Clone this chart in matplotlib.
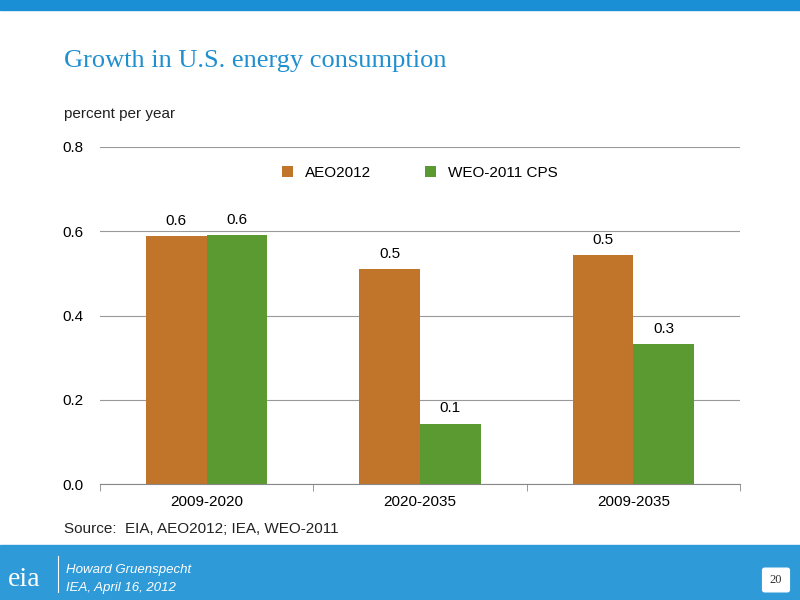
import matplotlib
matplotlib.use("Agg")
import matplotlib.pyplot as plt
import numpy as np
from matplotlib.patches import Rectangle, FancyBboxPatch

plt.rcParams["font.family"] = ["Liberation Sans", "DejaVu Sans"]

categories = ["2009-2020", "2020-2035", "2009-2035"]
aeo = [0.588, 0.510, 0.543]
weo = [0.590, 0.143, 0.332]
aeo_labels = ["0.6", "0.5", "0.5"]
weo_labels = ["0.6", "0.1", "0.3"]
yticks = [0.0, 0.2, 0.4, 0.6, 0.8]

fig = plt.figure(figsize=(8, 6), dpi=100)
W, H = 800, 600
def fx(px): return px / W
def fy(py): return 1 - py / H

fig.patches.append(Rectangle((0, fy(10)), 1, 10 / H, transform=fig.transFigure, color="#1a8fd6", zorder=0))
fig.patches.append(Rectangle((0, 0), 1, 55 / H, transform=fig.transFigure, color="#2e9ad8", zorder=0))
fig.text(fx(64), fy(61), "Growth in U.S. energy consumption", fontsize=19, color="#1f8fcf", family="Liberation Serif", va="center")
fig.text(fx(64), fy(114), "percent per year", fontsize=11, color="#222222", va="center")
fig.text(fx(64), fy(529), "Source:  EIA, AEO2012; IEA, WEO-2011", fontsize=11, color="#222222", va="center")
fig.text(fx(8), fy(580), "eia", fontsize=20, color="white", family="Liberation Serif", va="center")
fig.lines.append(plt.Line2D([fx(58), fx(58)], [fy(592), fy(556)], transform=fig.transFigure, color="white", lw=0.8))
fig.text(fx(66), fy(570), "Howard Gruenspecht", fontsize=9.5, color="white", style="italic", va="center")
fig.text(fx(66), fy(588), "IEA, April 16, 2012", fontsize=9.5, color="white", style="italic", va="center")
fig.patches.append(FancyBboxPatch((fx(765), fy(590)), 22 / W, 20 / H, boxstyle="round,pad=0.003", transform=fig.transFigure, color="white"))
fig.text(fx(776), fy(580), "20", fontsize=9, color="#333333", family="Liberation Serif", ha="center", va="center")

ax = fig.add_axes([fx(100), fy(484), (740 - 100) / W, (484 - 147) / H])
x = np.arange(len(categories))
w = 0.285
b1 = ax.bar(x - w / 2, aeo, w, color="#c0752a", label="AEO2012")
b2 = ax.bar(x + w / 2, weo, w, color="#5a9a31", label="WEO-2011 CPS")
for bars, labs in ((b1, aeo_labels), (b2, weo_labels)):
    for r, t in zip(bars, labs):
        ax.text(r.get_x() + r.get_width() / 2, r.get_height() + 0.02, t, ha="center", va="bottom", fontsize=11)
ax.set_xlim(-0.5, 2.5)
ax.set_ylim(0, 0.8)
ax.set_yticks(yticks)
ax.set_yticklabels([f"{v:.1f}" for v in yticks], fontsize=11)
ax.set_xticks(x)
ax.set_xticklabels(categories, fontsize=11)
ax.set_xticks([-0.5, 0.5, 1.5, 2.5], minor=True)
ax.tick_params(axis="x", which="major", length=0, pad=8)
ax.tick_params(axis="x", which="minor", length=5, color="#888888")
ax.tick_params(axis="y", length=0, pad=12)
ax.grid(axis="y", color="#999999", lw=0.8)
ax.set_axisbelow(True)
for s in ["top", "right", "left"]:
    ax.spines[s].set_visible(False)
ax.spines["bottom"].set_color("#888888")
ax.legend(loc="upper center", bbox_to_anchor=(0.5, 0.985), ncol=2, frameon=False, fontsize=11,
          handlelength=0.7, handleheight=0.7, columnspacing=3.5)
fig.savefig("out.png", dpi=100)
